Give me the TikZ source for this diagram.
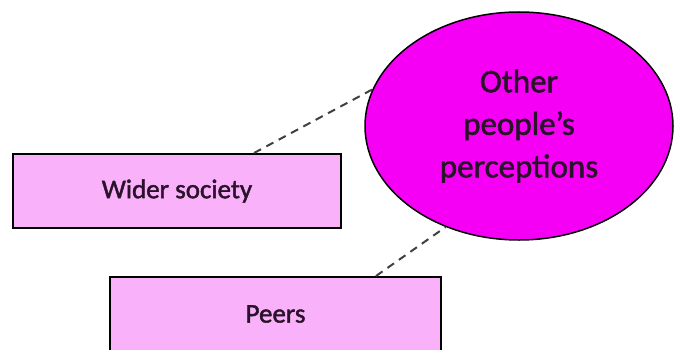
\documentclass[tikz,border=0pt]{standalone}
\usepackage{fontspec}
\setmainfont{Carlito}[FakeBold=1.6]
\usetikzlibrary{shapes.geometric}
\definecolor{boxpink}{HTML}{F9B2F9}
\definecolor{ovalmag}{HTML}{F500F5}
\definecolor{dashgray}{HTML}{404040}
\definecolor{txt}{HTML}{2A122A}
\begin{document}
\begin{tikzpicture}[x=1pt,y=1pt,
  box/.style={draw=black, line width=2pt, fill=boxpink, minimum width=328pt, minimum height=74pt, inner sep=0pt, text=txt, font=\fontsize{27}{32}\selectfont},
  oval/.style={ellipse, draw=black, line width=1.5pt, fill=ovalmag, minimum width=308pt, minimum height=228pt, inner sep=0pt, align=center, text=txt, font=\fontsize{33}{42.5}\selectfont},
  link/.style={dashgray, line width=2pt, dash pattern=on 8pt off 6pt}]
\useasboundingbox (0,0) rectangle (674,349);
\clip (0,0) rectangle (674,349);
\node[oval] (el) at (519,223) {Other\\people’s\\perceptions};
\node[box] (ws) at (177,158) {Wider society};
\node[box, minimum width=331pt] (pe) at (275.5,35) {Peers};
\draw[link] ([xshift=-88pt]ws.north east) -- (el.166);
\draw[link] ([xshift=-66pt]pe.north east) -- (el.234);
\end{tikzpicture}
\end{document}
